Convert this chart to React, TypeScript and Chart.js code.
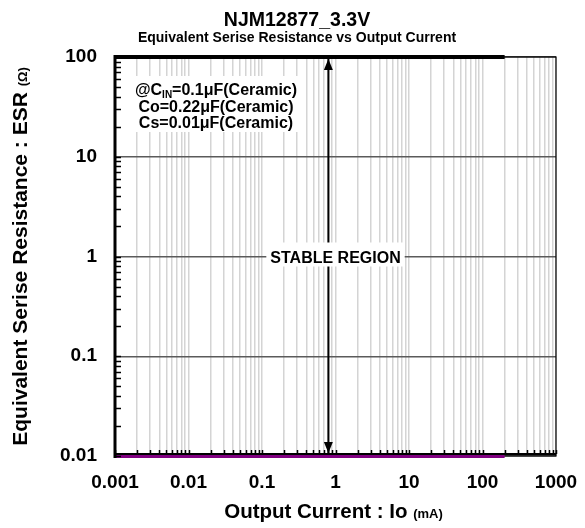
import { useEffect, useRef } from "react";
import { Chart, registerables } from "chart.js";

Chart.register(...registerables);

// ---- data ----
const xTickValues = [0.001, 0.01, 0.1, 1, 10, 100, 1000];
const xTickLabels = ["0.001", "0.01", "0.1", "1", "10", "100", "1000"];
const yTickValues = [0.01, 0.1, 1, 10, 100];
const yTickLabels = ["0.01", "0.1", "1", "10", "100"];

const upperLimitX = [0.001, 200];
const upperLimitY = [100, 100];
const lowerLimitX = [0.001, 200];
const lowerLimitY = [0.01, 0.01];
const arrowX = [0.8, 0.8];
const arrowY = [0.01, 100];

const titleText = "NJM12877_3.3V";
const subtitleText = "Equivalent Serise Resistance vs Output Current";
const xTitleMain = "Output Current : Io ";
const xTitleUnit = "(mA)";
const yTitleMain = "Equivalent Serise Resistance : ESR ";
const yTitleUnit = "(\u03A9)";
const regionLabel = "STABLE REGION";
const regionLabelX = 1;
const regionLabelY = 1;
const condLine1a = "@C";
const condLine1sub = "IN";
const condLine1b = "=0.1\u03BCF(Ceramic)";
const condLine2 = "Co=0.22\u03BCF(Ceramic)";
const condLine3 = "Cs=0.01\u03BCF(Ceramic)";

const FONT = "Arial, 'Liberation Sans', sans-serif";

function logTicks(min: number, max: number): number[] {
  const out: number[] = [];
  const e0 = Math.round(Math.log10(min));
  const e1 = Math.round(Math.log10(max));
  for (let e = e0; e <= e1; e++) {
    for (let m = 1; m <= 9; m++) {
      const v = parseFloat((m * Math.pow(10, e)).toPrecision(6));
      if (v >= min * 0.999 && v <= max * 1.001) out.push(v);
    }
  }
  return out;
}
const isMajor = (v: number) => Math.abs(Math.log10(v) - Math.round(Math.log10(v))) < 1e-6;

const pts = (xs: number[], ys: number[]) => xs.map((x, i) => ({ x, y: ys[i] }));

const decor = {
  id: "decor",
  beforeDatasetsDraw(chart: any) {
    const { ctx, chartArea: a } = chart;
    ctx.save();
    ctx.strokeStyle = "#000";
    ctx.lineWidth = 1.2;
    ctx.strokeRect(a.left, a.top, a.right - a.left, a.bottom - a.top);
    ctx.restore();
  },
  afterDatasetsDraw(chart: any) {
    const { ctx, chartArea: a, scales } = chart;
    const xs = scales.x, ys = scales.y;
    ctx.save();
    // bottom axis line
    ctx.strokeStyle = "#000";
    ctx.lineWidth = 2;
    ctx.beginPath();
    ctx.moveTo(a.left, a.bottom - 2);
    ctx.lineTo(a.right, a.bottom - 2);
    ctx.stroke();
    // left axis thick
    ctx.lineWidth = 3;
    ctx.beginPath();
    ctx.moveTo(a.left, a.top - 2);
    ctx.lineTo(a.left, a.bottom + 2);
    ctx.stroke();
    // minor ticks inside
    ctx.lineWidth = 1.5;
    for (const v of logTicks(yTickValues[0], yTickValues[yTickValues.length - 1])) {
      const py = Math.round(ys.getPixelForValue(v)) + 0.5;
      ctx.beginPath();
      ctx.moveTo(a.left, py);
      ctx.lineTo(a.left + 6, py);
      ctx.stroke();
    }
    for (const v of logTicks(xTickValues[0], xTickValues[xTickValues.length - 1])) {
      const px = Math.round(xs.getPixelForValue(v)) + 0.5;
      ctx.beginPath();
      ctx.moveTo(px, a.bottom - 2);
      ctx.lineTo(px, a.bottom - 6);
      ctx.stroke();
    }
    // arrow heads
    const ax = xs.getPixelForValue(arrowX[0]);
    const yTop = ys.getPixelForValue(arrowY[1]);
    const yBot = ys.getPixelForValue(arrowY[0]);
    ctx.fillStyle = "#000";
    ctx.beginPath();
    ctx.moveTo(ax, yTop + 2);
    ctx.lineTo(ax - 4.5, yTop + 13);
    ctx.lineTo(ax + 4.5, yTop + 13);
    ctx.closePath();
    ctx.fill();
    ctx.beginPath();
    ctx.moveTo(ax, yBot - 3);
    ctx.lineTo(ax - 4.5, yBot - 14);
    ctx.lineTo(ax + 4.5, yBot - 14);
    ctx.closePath();
    ctx.fill();

    // stable region label
    const lx = xs.getPixelForValue(regionLabelX);
    const ly = ys.getPixelForValue(regionLabelY);
    ctx.font = `bold 16px ${FONT}`;
    const w = ctx.measureText(regionLabel).width;
    ctx.fillStyle = "#fff";
    ctx.fillRect(lx - w / 2 - 4, ly - 14, w + 8, 24);
    ctx.fillStyle = "#000";
    ctx.textAlign = "center";
    ctx.textBaseline = "alphabetic";
    ctx.fillText(regionLabel, lx, ly + 6.5);

    // condition box
    ctx.fillStyle = "#fff";
    ctx.fillRect(a.left + 10, a.top + 19, 180, 56);
    ctx.fillStyle = "#000";
    const cx = a.left + 101;
    const big = `bold 16px ${FONT}`;
    const small = `bold 10px ${FONT}`;
    ctx.font = big;
    const wA = ctx.measureText(condLine1a).width;
    const wB = ctx.measureText(condLine1b).width;
    ctx.font = small;
    const wS = ctx.measureText(condLine1sub).width;
    const sx = cx - (wA + wB + wS) / 2;
    ctx.textAlign = "left";
    const b1 = a.top + 38;
    ctx.font = big;
    ctx.fillText(condLine1a, sx, b1);
    ctx.font = small;
    ctx.fillText(condLine1sub, sx + wA, b1 + 3);
    ctx.font = big;
    ctx.fillText(condLine1b, sx + wA + wS, b1);
    ctx.textAlign = "center";
    ctx.fillText(condLine2, cx, b1 + 16.5);
    ctx.fillText(condLine3, cx, b1 + 32.5);
    ctx.restore();
  },
  afterDraw(chart: any) {
    const { ctx, chartArea: a } = chart;
    ctx.save();
    ctx.fillStyle = "#000";
    ctx.textAlign = "center";
    ctx.textBaseline = "alphabetic";
    ctx.font = `bold 19.5px ${FONT}`;
    ctx.fillText(titleText, 297, 26);
    ctx.font = `bold 14px ${FONT}`;
    ctx.fillText(subtitleText, 297, 42);

    // x title
    ctx.textAlign = "left";
    ctx.font = `bold 20.5px ${FONT}`;
    const wm = ctx.measureText(xTitleMain).width;
    ctx.font = `bold 13px ${FONT}`;
    const wu = ctx.measureText(xTitleUnit).width;
    const xc = (a.left + a.right) / 2 - 2;
    const sx = xc - (wm + wu) / 2;
    ctx.font = `bold 20.5px ${FONT}`;
    ctx.fillText(xTitleMain, sx, 518);
    ctx.font = `bold 13px ${FONT}`;
    ctx.fillText(xTitleUnit, sx + wm, 518);

    // y title
    ctx.translate(27, (a.top + a.bottom) / 2);
    ctx.rotate(-Math.PI / 2);
    ctx.font = `bold 21px ${FONT}`;
    const ym = ctx.measureText(yTitleMain).width;
    ctx.font = `bold 13px ${FONT}`;
    const yu = ctx.measureText(yTitleUnit).width;
    const sy = -(ym + yu) / 2;
    ctx.font = `bold 21px ${FONT}`;
    ctx.fillText(yTitleMain, sy, 0);
    ctx.font = `bold 13px ${FONT}`;
    ctx.fillText(yTitleUnit, sy + ym, 0);
    ctx.restore();
  },
};

export default function App() {
  const ref = useRef<HTMLCanvasElement | null>(null);
  useEffect(() => {
    if (!ref.current) return;
    const xLabelMap = new Map(xTickValues.map((v, i) => [v, xTickLabels[i]]));
    const yLabelMap = new Map(yTickValues.map((v, i) => [v, yTickLabels[i]]));
    const chart = new Chart(ref.current, {
      type: "line",
      data: {
        datasets: [
          {
            data: pts(upperLimitX, upperLimitY),
            borderColor: "#000",
            borderWidth: 4,
            pointRadius: 0,
            clip: false as any,
          },
          {
            data: pts(lowerLimitX, lowerLimitY),
            borderColor: "#800080",
            borderWidth: 4,
            pointRadius: 0,
            clip: false as any,
          },
          {
            data: pts(arrowX, arrowY),
            borderColor: "#000",
            borderWidth: 2,
            pointRadius: 0,
          },
        ],
      },
      options: {
        animation: false,
        responsive: false,
        parsing: false as any,
        layout: { padding: { top: 57, right: 29, left: 0, bottom: 0 } },
        plugins: {
          legend: { display: false },
          tooltip: { enabled: false },
          title: { display: false },
        },
        scales: {
          x: {
            type: "logarithmic",
            min: xTickValues[0],
            max: xTickValues[xTickValues.length - 1],
            afterBuildTicks: (s: any) => {
              s.ticks = logTicks(s.min, s.max).map((v) => ({ value: v, major: isMajor(v) }));
            },
            afterFit: (s: any) => {
              s.height = 72;
              s.paddingLeft = 0;
              s.paddingRight = 0;
            },
            border: { display: false },
            grid: {
              color: "#d4d4d4",
              lineWidth: 1.5,
              drawTicks: false,
            },
            ticks: {
              autoSkip: false,
              maxRotation: 0,
              padding: 15,
              color: "#000",
              font: { family: FONT, size: 19, weight: "bold" },
              callback: (v: any) => {
                const k = xTickValues.find((t) => Math.abs(t - v) / t < 1e-6);
                return k !== undefined ? xLabelMap.get(k) : "";
              },
            },
          },
          y: {
            type: "logarithmic",
            min: yTickValues[0],
            max: yTickValues[yTickValues.length - 1],
            afterBuildTicks: (s: any) => {
              s.ticks = logTicks(s.min, s.max).map((v) => ({ value: v, major: isMajor(v) }));
            },
            afterFit: (s: any) => {
              s.width = 115;
              s.paddingTop = 0;
              s.paddingBottom = 0;
            },
            border: { display: false },
            grid: {
              color: (c: any) => (c.tick && isMajor(c.tick.value) ? "#5a5a5a" : "rgba(0,0,0,0)"),
              lineWidth: 1.5,
              drawTicks: false,
            },
            ticks: {
              autoSkip: false,
              padding: 18,
              color: "#000",
              font: { family: FONT, size: 19, weight: "bold" },
              callback: (v: any) => {
                const k = yTickValues.find((t) => Math.abs(t - v) / t < 1e-6);
                return k !== undefined ? yLabelMap.get(k) : "";
              },
            },
          },
        },
      },
      plugins: [decor],
    });
    return () => chart.destroy();
  }, []);
  return (
    <div style={{ position: "absolute", left: 0, top: 0, width: 585, height: 528, background: "#fff" }}>
      <canvas ref={ref} width={585} height={528} />
    </div>
  );
}
